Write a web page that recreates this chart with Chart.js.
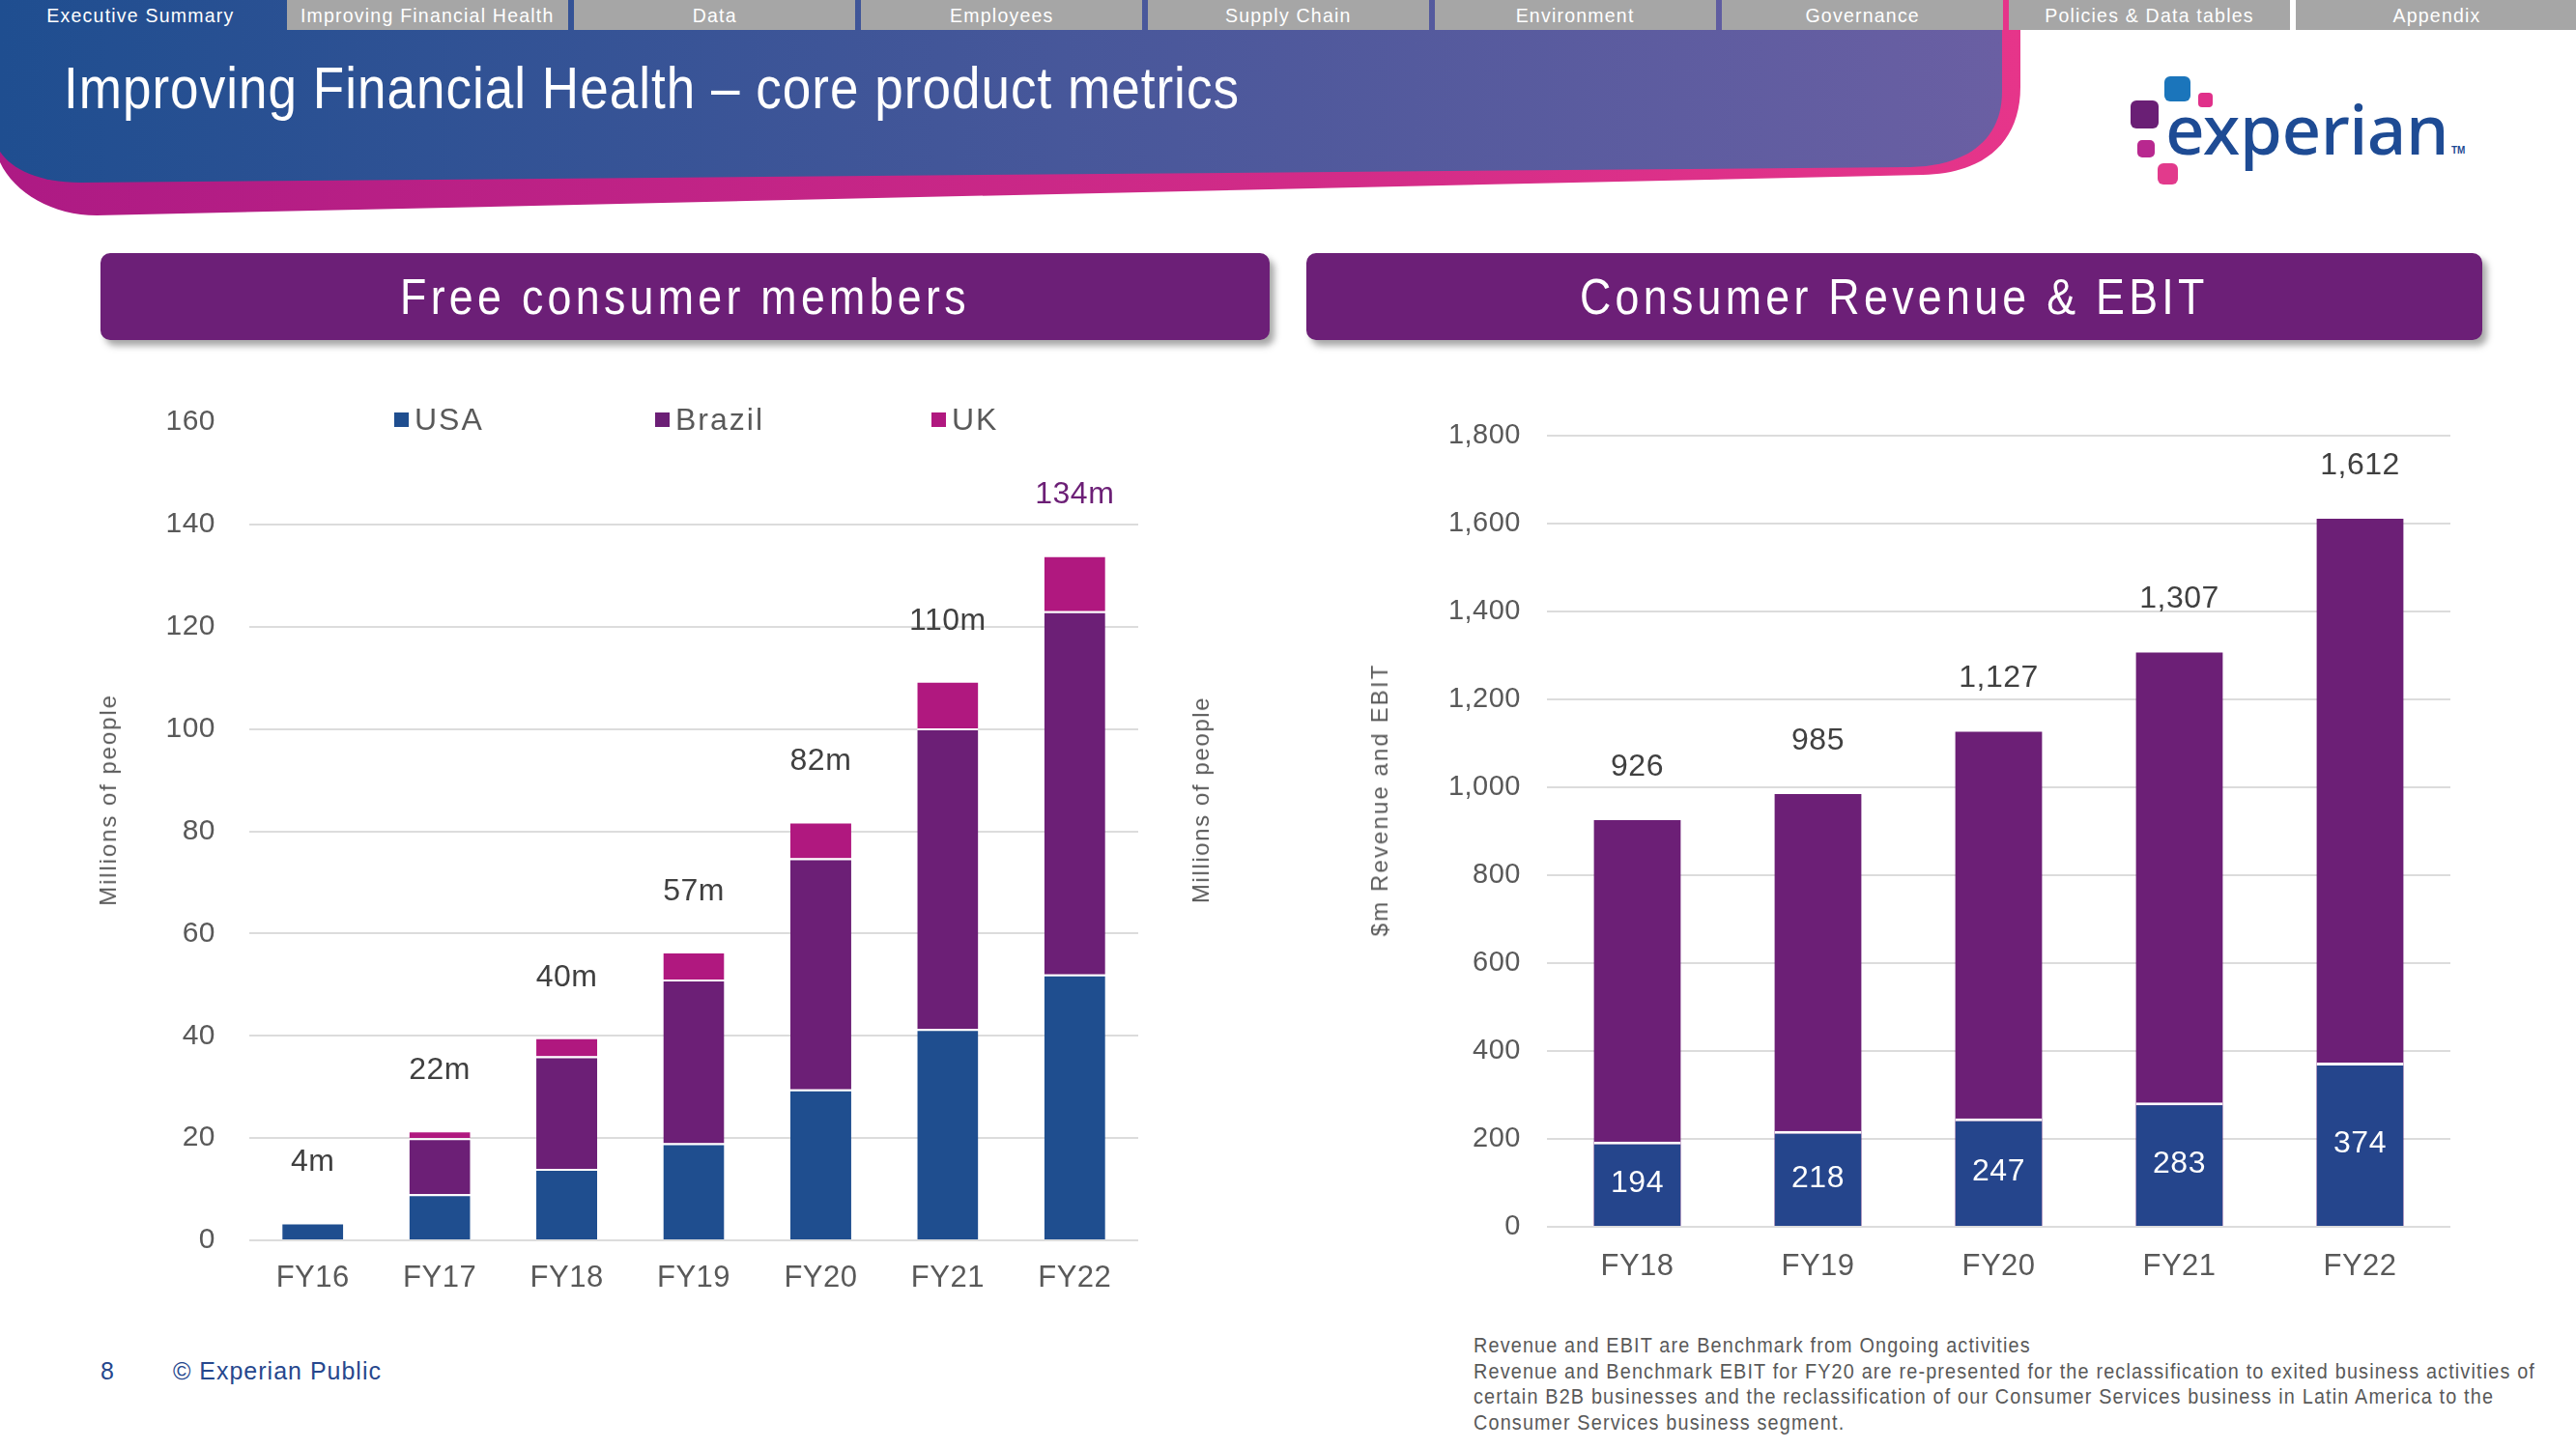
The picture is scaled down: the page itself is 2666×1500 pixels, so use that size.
<!DOCTYPE html>
<html>
<head>
<meta charset="utf-8">
<title>Improving Financial Health – core product metrics</title>
<script src="https://cdn.jsdelivr.net/npm/chart.js@4.4.1/dist/chart.umd.min.js"></script>
<style>
  html, body { margin: 0; padding: 0; }
  body { width: 2666px; height: 1500px; position: relative; overflow: hidden; background: #fff;
         font-family: "Liberation Sans", Arial, sans-serif; }
  .abs { position: absolute; }
  .narrow { display: inline-block; transform-origin: 50% 50%; }
  .tab { position: absolute; top: 0; height: 31px; width: 291px; background: #a6a6a6; color: #fff;
         font-size: 21px; letter-spacing: 1.3px; text-align: center; line-height: 31px; white-space: nowrap; }
  .tab .narrow { transform: scaleX(0.93); }
  .tab.first { background: transparent; }
  #title { left: 66px; top: 56px; font-size: 62px; line-height: 70px; color: #fff; letter-spacing: 1.2px;
           white-space: nowrap; transform: scaleX(0.855); transform-origin: 0 50%; }
  .panel { position: absolute; top: 262px; height: 90px; background: #6c1f77; border-radius: 10px;
           box-shadow: 5px 6px 7px rgba(0,0,0,0.35); color: #fff; font-size: 52px; letter-spacing: 5px;
           text-align: center; line-height: 90px; white-space: nowrap; }
  .panel .narrow { transform: scaleX(0.86); }
  .sq { position: absolute; border-radius: 6px; }
  #logoText { left: 2241px; top: 97px; font-family: "Noto Sans", sans-serif; font-weight: 500; font-size: 71px;
              line-height: 71px; color: #1e4b94; letter-spacing: -0.5px; }
  #tm { left: 2537px; top: 150px; font-size: 10px; color: #1e4b94; font-weight: bold; }
  .legend { position: absolute; top: 416px; height: 36px; display: flex; align-items: center; font-size: 32px;
            letter-spacing: 2px; color: #595959; }
  .legend span.box { display: inline-block; width: 15px; height: 15px; margin-right: 6px; }
  .vtitle { position: absolute; font-size: 24px; letter-spacing: 1.9px;
            color: #595959; transform: translate(-50%, -50%) rotate(-90deg); white-space: nowrap; }
  #footer { left: 104px; top: 1405px; font-size: 25px; color: #26478d; letter-spacing: 1px; white-space: nowrap; }
  #note { left: 1525px; top: 1380px; font-size: 22px; line-height: 26.5px; color: #595959; letter-spacing: 1.3px;
          white-space: nowrap; transform: scaleX(0.9); transform-origin: 0 0; }
</style>
</head>
<body>

<svg class="abs" style="left:0;top:0" width="2666" height="240">
  <defs>
    <linearGradient id="gBlue" gradientUnits="userSpaceOnUse" x1="0" y1="0" x2="2072" y2="0">
      <stop offset="0" stop-color="#1f4e90"/>
      <stop offset="1" stop-color="#6a5fa3"/>
    </linearGradient>
    <linearGradient id="gPink" gradientUnits="userSpaceOnUse" x1="0" y1="0" x2="2091" y2="0">
      <stop offset="0" stop-color="#ad1a84"/>
      <stop offset="1" stop-color="#e6358a"/>
    </linearGradient>
  </defs>
  <path d="M0,0 H2091 V90 C2091,150 2050,180 1990,181 L100,223 C55,223 15,200 0,168 Z" fill="url(#gPink)"/>
  <path d="M0,0 H2072 V95 C2072,145 2035,172 1977,173 L83,189 C40,189 12,175 0,157 Z" fill="url(#gBlue)"/>
</svg>

<div id="nav"></div>
<div id="title" class="abs">Improving Financial Health – core product metrics</div>

<div class="sq" style="left:2240px;top:79px;width:27px;height:26px;background:#1b75bb"></div>
<div class="sq" style="left:2275px;top:96px;width:15px;height:15px;background:#e0308a;border-radius:4px"></div>
<div class="sq" style="left:2205px;top:104px;width:29px;height:29px;background:#6a1f75"></div>
<div class="sq" style="left:2212px;top:145px;width:18px;height:18px;background:#b8288f;border-radius:5px"></div>
<div class="sq" style="left:2233px;top:169px;width:21px;height:22px;background:#e23a8c"></div>
<div id="logoText" class="abs">experian</div>
<div id="tm" class="abs">TM</div>

<div class="panel" style="left:104px;width:1210px"><span class="narrow">Free consumer members</span></div>
<div class="panel" style="left:1352px;width:1217px"><span class="narrow">Consumer Revenue &amp; EBIT</span></div>

<div class="abs" style="left:95px;top:384px;width:1180px;height:970px">
  <canvas id="membersChart" width="1180" height="970"></canvas>
</div>
<div class="vtitle" style="left:112px;top:828px">Millions of people</div>
<div class="vtitle" style="left:1243px;top:828px;letter-spacing:1.6px">Millions of people</div>

<div class="abs" style="left:1400px;top:407px;width:1170px;height:933px">
  <canvas id="revenueChart" width="1170" height="933"></canvas>
</div>
<div class="vtitle" style="left:1428px;top:828px;letter-spacing:2.1px">$m Revenue and EBIT</div>

<div id="footer" class="abs">8<span style="margin-left:60px">© Experian Public</span></div>
<div id="note" class="abs">Revenue and EBIT are Benchmark from Ongoing activities<br>Revenue and Benchmark EBIT for FY20 are re-presented for the reclassification to exited business activities of<br>certain B2B businesses and the reclassification of our Consumer Services business in Latin America to the<br>Consumer Services business segment.</div>

<script>
const navTabs = ['Executive Summary', 'Improving Financial Health', 'Data', 'Employees', 'Supply Chain',
                 'Environment', 'Governance', 'Policies & Data tables', 'Appendix'];

const memberYears = ['FY16', 'FY17', 'FY18', 'FY19', 'FY20', 'FY21', 'FY22'];
const memberSeries = ['USA', 'Brazil', 'UK'];
const usaMembers = [3.5, 9, 14, 19, 29.5, 41.3, 52];
const brazilMembers = [0, 11, 22, 32, 45.2, 58.8, 71];
const ukMembers = [0, 1.5, 3.7, 5.5, 7.2, 9.3, 11];
const memberTotals = [4, 22, 40, 57, 82, 110, 134];
const memberTicks = { min: 0, max: 160, step: 20 };

const revenueYears = ['FY18', 'FY19', 'FY20', 'FY21', 'FY22'];
const consumerRevenue = [926, 985, 1127, 1307, 1612];
const consumerEbit = [194, 218, 247, 283, 374];
const revenueTicks = { min: 0, max: 1800, step: 200 };

const FONT = '"Liberation Sans", Arial, sans-serif';
const GRID = '#dcdcdc';
const TICK = '#595959';

// nav bar
const nav = document.getElementById('nav');
navTabs.forEach((name, i) => {
    const d = document.createElement('div');
    d.className = 'tab' + (i === 0 ? ' first' : '');
    d.style.left = (i * 297) + 'px';
    const s = document.createElement('span');
    s.className = 'narrow';
    s.textContent = name;
    d.appendChild(s);
    nav.appendChild(d);
});

// canvas letter spacing, Chart.js has no option for it
const spacing = {
    id: 'spacing',
    beforeUpdate(chart) { chart.ctx.letterSpacing = '0.5px'; },
    beforeDraw(chart) { chart.ctx.letterSpacing = '0.5px'; }
};

function barLabels(items) {
    return {
        id: 'barLabels',
        afterDatasetsDraw(chart) {
            const ctx = chart.ctx;
            ctx.save();
            ctx.textAlign = 'center';
            ctx.textBaseline = 'middle';
            items.forEach(item => {
                const meta = chart.getDatasetMeta(item.dataset);
                ctx.font = item.font;
                meta.data.forEach((bar, i) => {
                    const y = item.inside ? (bar.y + bar.base) / 2 : bar.y - item.offset;
                    ctx.fillStyle = Array.isArray(item.color) ? item.color[i] : item.color;
                    ctx.fillText(item.texts[i], bar.x, y);
                });
            });
            ctx.restore();
        }
    };
}

function fixWidth(w) { return scale => { scale.width = w; }; }
function fixHeight(h) { return scale => { scale.height = h; }; }

const sepBorder = { top: 2, left: 0, right: 0, bottom: 0 };

// left chart
const membersChart = new Chart(document.getElementById('membersChart').getContext('2d'), {
    type: 'bar',
    data: {
        labels: memberYears,
        datasets: [
            { label: memberSeries[0], data: usaMembers, backgroundColor: '#1f4e8f' },
            { label: memberSeries[1], data: brazilMembers, backgroundColor: '#6c1f76' },
            { label: memberSeries[2], data: ukMembers, backgroundColor: '#b0187f' }
        ].map(ds => Object.assign(ds, {
            borderColor: '#ffffff', borderWidth: sepBorder, borderSkipped: false,
            categoryPercentage: 0.8, barPercentage: 0.6
        }))
    },
    options: {
        responsive: false,
        animation: false,
        devicePixelRatio: 1,
        layout: { padding: { top: 30, right: 97, left: 0, bottom: 0 } },
        plugins: { legend: { display: false }, tooltip: { enabled: false } },
        scales: {
            x: {
                stacked: true,
                grid: { display: false },
                border: { display: false },
                ticks: { color: TICK, font: { family: FONT, size: 31 }, padding: 13 },
                afterFit: fixHeight(70)
            },
            y: {
                stacked: true,
                min: memberTicks.min,
                max: memberTicks.max,
                ticks: { stepSize: memberTicks.step, color: TICK, font: { family: FONT, size: 30 }, padding: 35 },
                grid: {
                    color: c => c.tick.value === memberTicks.max ? 'rgba(0,0,0,0)' : GRID,
                    lineWidth: 2, drawTicks: false
                },
                border: { display: false },
                afterFit: fixWidth(163)
            }
        }
    },
    plugins: [spacing, barLabels([{
        dataset: 2, offset: 62, font: '32px ' + FONT,
        texts: memberTotals.map(v => v + 'm'),
        color: memberTotals.map((v, i) => i === memberTotals.length - 1 ? '#6c1f76' : '#404040')
    }])]
});

// html legend for left chart, from the datasets
const legendPos = [408, 678, 964];
membersChart.data.datasets.forEach((ds, i) => {
    const item = document.createElement('div');
    item.className = 'legend';
    item.style.left = legendPos[i] + 'px';
    item.innerHTML = '<span class="box" style="background:' + ds.backgroundColor + '"></span>' + ds.label;
    document.body.appendChild(item);
});

// right chart
new Chart(document.getElementById('revenueChart').getContext('2d'), {
    type: 'bar',
    data: {
        labels: revenueYears,
        datasets: [
            { label: 'EBIT', data: consumerEbit, backgroundColor: '#25458c',
              borderColor: '#ffffff', borderWidth: { top: 3, left: 0, right: 0, bottom: 0 }, borderSkipped: false },
            { label: 'Revenue', data: consumerRevenue, backgroundColor: '#6c1f76', borderWidth: 0 }
        ].map(ds => Object.assign(ds, { categoryPercentage: 0.8, barPercentage: 0.6 }))
    },
    options: {
        responsive: false,
        animation: false,
        devicePixelRatio: 1,
        layout: { padding: { top: 37, right: 34, left: 0, bottom: 0 } },
        plugins: { legend: { display: false }, tooltip: { enabled: false } },
        scales: {
            x: {
                stacked: true,
                grid: { display: false },
                border: { display: false },
                ticks: { color: TICK, font: { family: FONT, size: 31 }, padding: 15 },
                afterFit: fixHeight(70)
            },
            y: {
                stacked: false,
                min: revenueTicks.min,
                max: revenueTicks.max,
                ticks: { stepSize: revenueTicks.step, color: TICK, font: { family: FONT, size: 29 }, padding: 27 },
                grid: { color: GRID, lineWidth: 2, drawTicks: false },
                border: { display: false },
                afterFit: fixWidth(201)
            }
        }
    },
    plugins: [spacing, barLabels([
        { dataset: 1, offset: 55, font: '32px ' + FONT, color: '#404040',
          texts: consumerRevenue.map(v => v.toLocaleString('en-US')) },
        { dataset: 0, inside: true, font: '32px ' + FONT, color: '#ffffff',
          texts: consumerEbit.map(v => String(v)) }
    ])]
});
</script>
</body>
</html>
